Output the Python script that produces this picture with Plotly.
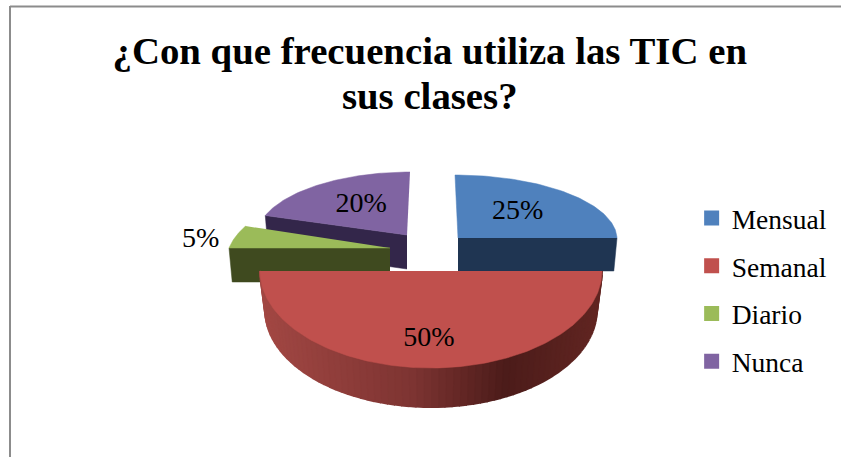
import numpy as np
import plotly.graph_objects as go

categories = ["Mensual", "Semanal", "Diario", "Nunca"]
values = [25, 50, 5, 20]
labels = ["25%", "50%", "5%", "20%"]
title_lines = ["¿Con que frecuencia utiliza las TIC en", "sus clases?"]

FONT = "Liberation Serif"
top_colors = {"Mensual": "#4f81bd", "Semanal": "#c0504d", "Diario": "#9bbb59", "Nunca": "#8064a2"}
side_colors = {"Mensual": "#1f3552", "Diario": "#3f4a1f", "Nunca": "#33264a"}
# exploded-slice projection: centre, radii, shear, wall depth, base shrink, label offset factors
geom = {
    "Mensual": dict(cx=458, cy=238, rx=159, ry=63, skew=-3, depth=33, shrink=0.98, lab=(0.53, 0.585), dx=0),
    "Semanal": dict(cx=431, cy=271, rx=171, ry=97, skew=0, depth=39, shrink=0.97, lab=(0.5, 0.70), dx=-2),
    "Diario": dict(cx=390, cy=248, rx=161, ry=71, skew=28, depth=34, shrink=0.98, lab=(1.19, 0.73), dx=0),
    "Nunca": dict(cx=407, cy=235, rx=150, ry=63, skew=3, depth=34, shrink=0.98, lab=(0.52, 0.59), dx=0),
}
wall_face = {"Mensual": "end", "Diario": "start", "Nunca": "start"}
side_stops = [(0.0, (163, 72, 68)), (0.45, (125, 52, 50)), (0.72, (76, 28, 26)), (1.0, (98, 38, 34))]

total = sum(values)
starts = np.cumsum([0] + values[:-1]) / total * 2 * np.pi
ends = np.cumsum(values) / total * 2 * np.pi


def arc(g, a0, a1, n=80, base=False):
    t = np.linspace(a0, a1, n)
    k = g["shrink"] if base else 1.0
    x = g["cx"] + k * g["rx"] * np.sin(t) + g["skew"] * np.cos(t)
    y = g["cy"] - g["ry"] * np.cos(t) + (g["depth"] if base else 0)
    return x, y


def poly(x, y, color, lw=0.5):
    return go.Scatter(x=list(x), y=list(y), mode="lines", fill="toself", fillcolor=color,
                      line=dict(color=color, width=lw), hoverinfo="skip", showlegend=False)


fig = go.Figure()
for name in ["Nunca", "Mensual", "Diario"]:
    i = categories.index(name)
    g = geom[name]
    a0, a1 = starts[i], ends[i]
    a = a1 if wall_face[name] == "end" else a0
    xt, yt = arc(g, a, a, 1)
    xb, yb = arc(g, a, a, 1, base=True)
    fig.add_trace(poly([g["cx"], xt[0], xb[0], g["cx"]],
                       [g["cy"], yt[0], yb[0], g["cy"] + g["depth"]], side_colors[name]))
    xa, ya = arc(g, a0, a1)
    fig.add_trace(poly(np.r_[g["cx"], xa], np.r_[g["cy"], ya], top_colors[name]))

# large slice: shaded wall built from thin strips, then its top face
i = categories.index("Semanal")
g = geom["Semanal"]
a0, a1 = starts[i], ends[i]
edges = np.linspace(a0, a1, 73)
stop_pos = [s[0] for s in side_stops]
for j in range(len(edges) - 1):
    mid = (edges[j] + edges[j + 1]) / 2
    pos = (1 + np.sin(mid)) / 2  # 0 at the left of the wall, 1 at the right
    rgb = [np.interp(pos, stop_pos, [s[1][c] for s in side_stops]) for c in range(3)]
    col = "rgb(%d,%d,%d)" % tuple(rgb)
    xt, yt = arc(g, edges[j], edges[j + 1], 3)
    xb, yb = arc(g, edges[j], edges[j + 1], 3, base=True)
    fig.add_trace(poly(np.r_[xt, xb[::-1]], np.r_[yt, yb[::-1]], col, lw=2))
xa, ya = arc(g, a0, a1, 160)
fig.add_trace(poly(xa, ya, top_colors["Semanal"]))

# data labels
lab_x, lab_y = [], []
for i, name in enumerate(categories):
    g = geom[name]
    m = (starts[i] + ends[i]) / 2
    lab_x.append(g["cx"] + g["dx"] + g["lab"][0] * g["rx"] * np.sin(m))
    lab_y.append(g["cy"] - g["lab"][1] * g["ry"] * np.cos(m))
fig.add_trace(go.Scatter(x=lab_x, y=lab_y, mode="text", text=labels, textposition="middle center",
                         textfont=dict(family=FONT, size=28, color="#000000"),
                         hoverinfo="skip", showlegend=False))

# legend entries
for name in categories:
    fig.add_trace(go.Scatter(x=[None], y=[None], mode="markers", name=name, legendgroup=name,
                             marker=dict(symbol="square", size=15, color=top_colors[name])))

title_text = "<br>".join('<span style="font-size:38.8px">%s</span>' % t for t in title_lines)
fig.update_layout(
    width=841, height=457, autosize=False,
    margin=dict(l=0, r=0, t=0, b=0),
    paper_bgcolor="white", plot_bgcolor="white",
    title=dict(text=title_text, x=0.511, xanchor="center", y=0.861, yanchor="bottom",
               font=dict(family=FONT, size=34.6, color="#000000", weight="bold")),
    xaxis=dict(range=[0, 841], visible=False, fixedrange=True),
    yaxis=dict(range=[457, 0], visible=False, fixedrange=True),
    legend=dict(x=0.8224, y=0.366, xanchor="left", yanchor="middle", tracegroupgap=9,
                font=dict(family=FONT, size=27.5, color="#000000"), itemwidth=30),
    shapes=[dict(type="line", xref="x", yref="y", x0=10, x1=10, y0=6, y1=457,
                 line=dict(color="#8c8c8c", width=2)),
            dict(type="line", xref="x", yref="y", x0=10, x1=841, y0=6.5, y1=6.5,
                 line=dict(color="#8c8c8c", width=2))],
)
fig.write_html("out.html", config={"displayModeBar": False},
               post_script="document.body.style.margin='0';")
